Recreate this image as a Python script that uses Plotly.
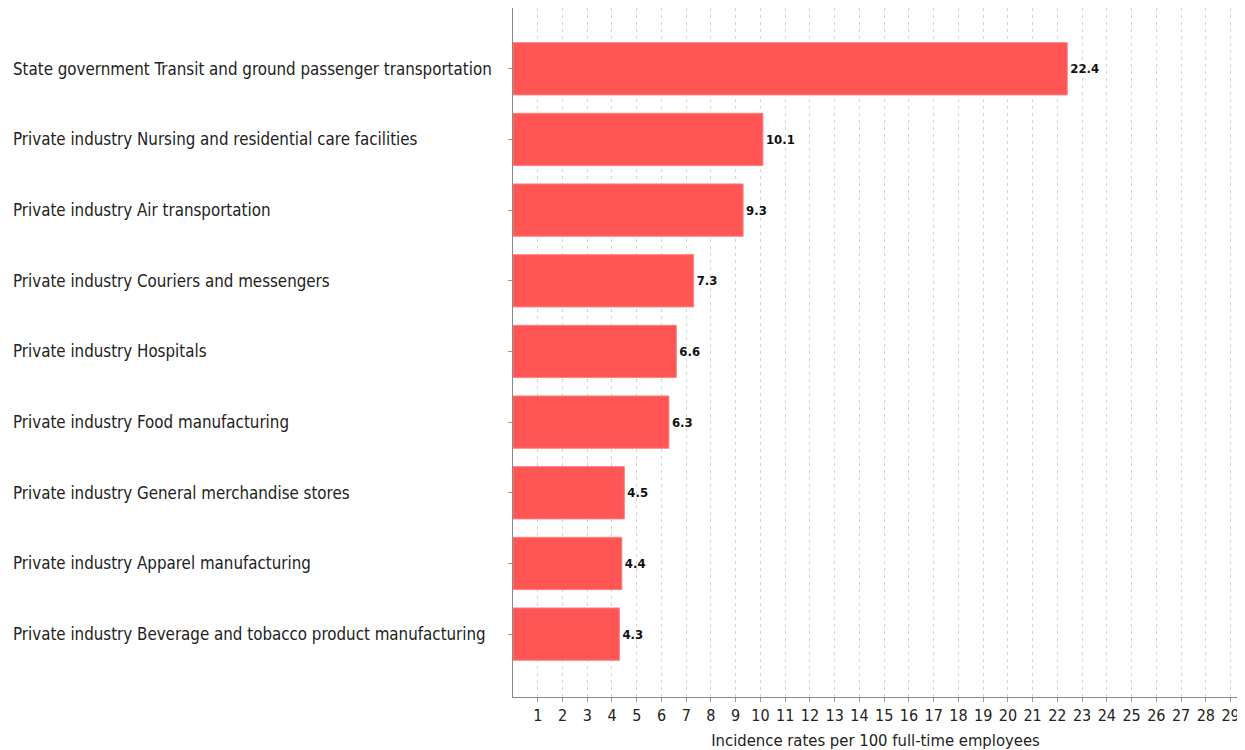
import plotly.graph_objects as go

categories = [
    "State government Transit and ground passenger transportation",
    "Private industry Nursing and residential care facilities",
    "Private industry Air transportation",
    "Private industry Couriers and messengers",
    "Private industry Hospitals",
    "Private industry Food manufacturing",
    "Private industry General merchandise stores",
    "Private industry Apparel manufacturing",
    "Private industry Beverage and tobacco product manufacturing",
]
values = [22.4, 10.1, 9.3, 7.3, 6.6, 6.3, 4.5, 4.4, 4.3]
x_ticks = list(range(1, 30))
x_title = "Incidence rates per 100 full-time employees"

FONT = "DejaVu Sans Condensed, DejaVu Sans"

fig = go.Figure()
fig.add_trace(go.Bar(
    x=values, y=categories, orientation="h",
    marker=dict(color="#FF5555", line=dict(color="#FF8080", width=1)),
    width=0.74,
    text=[f"<b>{v}</b>" for v in values], textposition="outside",
    textfont=dict(family=FONT, size=13, color="#111111"),
    cliponaxis=False,
))

for c in categories:
    fig.add_annotation(x=0, xref="paper", xshift=-502, xanchor="left",
                       y=c, yref="y", text=c, showarrow=False,
                       font=dict(family=FONT, size=16.8, color="#222222"))

fig.update_layout(
    width=1237, height=742,
    margin=dict(l=505, r=7, t=0, b=53, autoexpand=False),
    paper_bgcolor="white", plot_bgcolor="white",
    showlegend=False,
    font=dict(family=FONT, size=16, color="#222222"),
    xaxis=dict(
        range=[0, 29.3], tickvals=x_ticks, ticktext=[str(t) for t in x_ticks],
        showgrid=True, gridcolor="#d3d3d3", griddash="3px,4px", gridwidth=1,
        showline=True, linecolor="#888888", linewidth=1,
        ticks="outside", ticklen=4, tickcolor="#999999",
        tickfont=dict(family=FONT, size=16, color="#222222"),
        title=dict(text=x_title, font=dict(family=FONT, size=16.5, color="#222222"), standoff=10),
        zeroline=False, automargin=False,
    ),
    yaxis=dict(
        type="category", categoryorder="array", categoryarray=categories,
        range=[8.89, -0.86],
        showticklabels=False, showgrid=False,
        showline=True, linecolor="#888888", linewidth=1,
        ticks="outside", ticklen=4, tickcolor="#999999", automargin=False,
    ),
)

fig.write_html("out.html")
